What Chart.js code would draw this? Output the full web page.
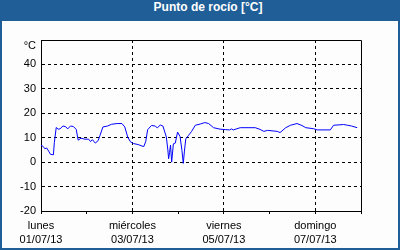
<!DOCTYPE html>
<html>
<head>
<meta charset="utf-8">
<script src="https://cdn.jsdelivr.net/npm/chart.js@4/dist/chart.umd.min.js"></script>
<style>
  body { margin: 0; background: #ffffff; }
  #frame { position: relative; width: 400px; height: 250px; background: #1f5e97; overflow: hidden; }
  #title { position: absolute; left: 0; top: 0; width: 400px; height: 21px; line-height: 21px;
           padding-left: 16px; box-sizing: border-box; text-align: center; color: #ffffff;
           font: bold 12px "Liberation Sans", Arial, sans-serif; }
  #plot { position: absolute; left: 2px; top: 21px; width: 396px; height: 227px; background: #fcfdfc; }
</style>
</head>
<body>
<div id="frame">
  <div id="title">Punto de rocío [°C]</div>
  <div id="plot"><canvas id="chart-dew" width="396" height="227"></canvas></div>
</div>
<script>
/* dew point, hourly readings over one week (hours since 01/07/13 00:00) */
var hours = [0, 1, 2, 3, 4, 5, 6.5, 7, 8, 9, 10, 11.5, 13, 14, 15.5, 17, 18.5, 19.5, 21, 23,
  25, 26, 27, 28.5, 30, 31, 32.5, 35, 37, 40, 42.5, 44, 45.5, 47, 48.6, 51, 53, 54, 55, 56,
  58, 60, 61, 62.6, 64, 65.8, 66.6, 67, 67.5, 68, 68.6, 69.5, 70.5, 71.7, 73, 74, 74.7, 75.3,
  76, 77.5, 79, 81, 83.6, 86, 88, 90.6, 94, 97, 99, 100, 101, 104.6, 112.5, 115, 117, 119,
  124, 125.5, 128.5, 131, 134.4, 137, 139, 143, 145, 151.9, 153.6, 158.9, 161, 163, 166];
var dewPoint = [6.9, 6.5, 5.5, 5.8, 4.5, 3.2, 3.0, 8, 14.2, 13.5, 13.6, 14.8, 14.5, 13.6, 14.8, 14.6, 13.4, 9, 9.8, 9.4,
  9.4, 8.4, 9.2, 7.8, 8.8, 11, 14.4, 14.8, 15.5, 15.8, 15.8, 14.4, 10.3, 8.3, 7.6, 7.2, 6.6, 6.4, 8.5, 13.3,
  15, 14.8, 14, 15.2, 14.8, 10.3, 5, 1.4, 4, 7, 0, 7.5, 7.8, 12.3, 10.5, 4.8, -0.5, 4.5,
  9.5, 11, 12.5, 15.1, 15.6, 16.2, 15.8, 14.1, 13.5, 13.3, 13.2, 13.6, 13.2, 14.1, 14.1, 13.4, 12.6, 13,
  12.6, 12.1, 14.1, 15.1, 15.8, 15, 14.1, 13.7, 13.2, 13.2, 15.1, 15.4, 15.1, 14.8, 14.1];

var xTicks = [0, 24, 48, 72, 96, 120, 144, 168];
var dayNames = ['lunes', '', 'miércoles', '', 'viernes', '', 'domingo', ''];
var dayDates = ['01/07/13', '', '03/07/13', '', '05/07/13', '', '07/07/13', ''];
var yTicks = [-20, -10, 0, 10, 20, 30, 40, 50];
var yUnit = '°C';

var INK  = '#000000';
var LINE = '#0000ff';
var FONT = '"Liberation Sans", Arial, sans-serif';

var points = hours.map(function(h, i) { return { x: h, y: dewPoint[i] }; });

var frameBox = {
  id: 'frameBox',
  afterDraw: function(chart) {
    var a = chart.chartArea, c = chart.ctx;
    c.save();
    c.strokeStyle = INK;
    c.lineWidth = 1;
    c.setLineDash([]);
    c.beginPath();
    c.moveTo(Math.round(a.left) + 0.5, Math.round(a.top) + 0.5);
    c.lineTo(Math.round(a.right) + 0.5, Math.round(a.top) + 0.5);
    c.lineTo(Math.round(a.right) + 0.5, Math.round(a.bottom) + 0.5);
    c.stroke();
    c.fillStyle = INK;
    c.font = '11px ' + FONT;
    c.textAlign = 'right';
    c.textBaseline = 'middle';
    c.fillText(yUnit, a.left - 5, a.top + 6);
    c.restore();
  }
};

new Chart(document.getElementById('chart-dew'), {
  type: 'line',
  data: {
    datasets: [{
      data: points,
      borderColor: LINE,
      borderWidth: 1,
      pointRadius: 0,
      tension: 0,
      fill: false
    }]
  },
  options: {
    responsive: false,
    animation: false,
    devicePixelRatio: 1,
    layout: { padding: { left: 0, right: 37, top: 19, bottom: 0 } },
    plugins: { legend: { display: false }, tooltip: { enabled: false } },
    scales: {
      x: {
        type: 'linear',
        min: 0, max: 168,
        afterBuildTicks: function(s) { s.ticks = xTicks.map(function(v) { return { value: v }; }); },
        afterFit: function(s) { s.height = 37; },
        border: { color: INK, width: 1, dash: [3, 3] },
        grid: {
          color: function(ctx) {
            var v = ctx.tick && ctx.tick.value;
            return (v > 0 && v < 168 && v % 48 === 0) ? INK : 'rgba(0,0,0,0)';
          },
          tickColor: INK,
          tickLength: 3,
          tickBorderDash: [],
          lineWidth: 1
        },
        ticks: {
          autoSkip: false,
          maxRotation: 0,
          padding: 4,
          color: INK,
          font: { family: FONT, size: 11, lineHeight: 1.36 },
          callback: function(v) {
            var i = xTicks.indexOf(v);
            return dayNames[i] ? [dayNames[i], dayDates[i]] : '';
          }
        }
      },
      y: {
        min: -20, max: 50,
        afterBuildTicks: function(s) { s.ticks = yTicks.map(function(v) { return { value: v }; }); },
        afterFit: function(s) { s.width = 39; },
        border: { color: INK, width: 1, dash: [3, 3] },
        grid: {
          color: function(ctx) {
            var v = ctx.tick && ctx.tick.value;
            return (v > -20 && v < 50) ? INK : 'rgba(0,0,0,0)';
          },
          drawTicks: false,
          lineWidth: 1
        },
        ticks: {
          padding: 5,
          color: INK,
          font: { family: FONT, size: 11 },
          callback: function(v) { return v === 50 ? '' : v; }
        }
      }
    }
  },
  plugins: [frameBox]
});
</script>
</body>
</html>
